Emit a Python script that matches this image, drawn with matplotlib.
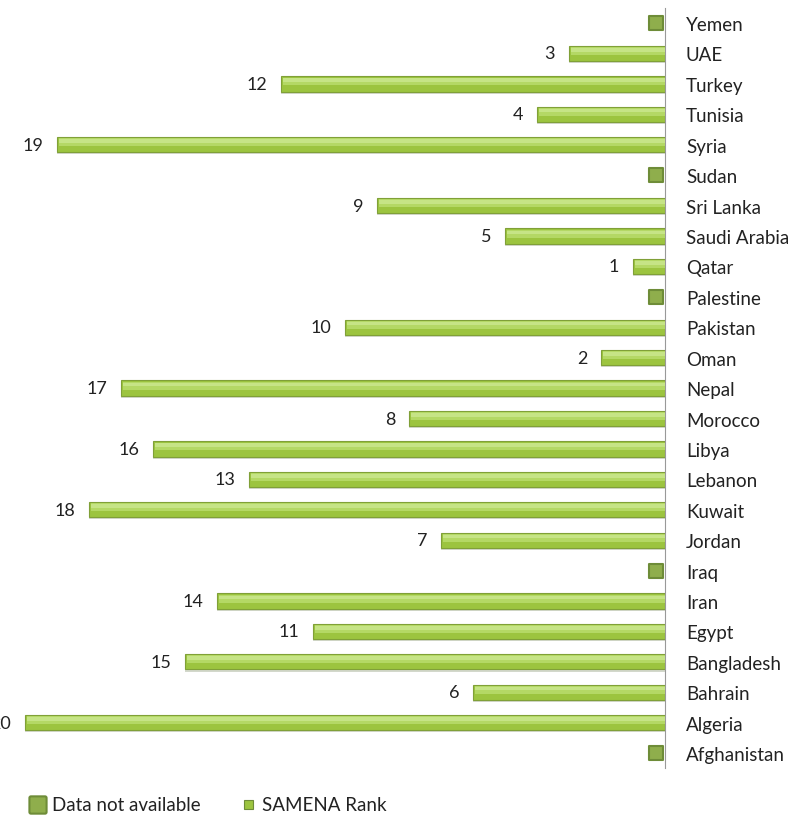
import matplotlib.pyplot as plt
import numpy as np
from matplotlib.patches import FancyBboxPatch

plt.rcParams['font.family'] = ['Lato', 'DejaVu Sans']

# countries from bottom to top, None = data not available
countries = ["Afghanistan", "Algeria", "Bahrain", "Bangladesh", "Egypt", "Iran", "Iraq",
             "Jordan", "Kuwait", "Lebanon", "Libya", "Morocco", "Nepal", "Oman", "Pakistan",
             "Palestine", "Qatar", "Saudi Arabia", "Sri Lanka", "Sudan", "Syria", "Tunisia",
             "Turkey", "UAE", "Yemen"]
rank = [None, 20, 6, 15, 11, 14, None, 7, 18, 13, 16, 8, 17, 2, 10,
        None, 1, 5, 9, None, 19, 4, 12, 3, None]

fig = plt.figure(figsize=(7.9, 8.2), dpi=100)
ax = fig.add_axes([0.0, 0.0618, 665 / 790, 0.9274])

y = np.arange(len(countries))
vals = np.array([v if v is not None else 0 for v in rank], dtype=float)
has = np.array([v is not None for v in rank])

# shadow, main bar, soft highlight
ax.barh(y[has] - 0.07, vals[has], height=0.5, color='#d3d8cc', zorder=1)
ax.barh(y[has], vals[has], height=0.5, color='#9cc43f', edgecolor='#80a038', linewidth=0.8, zorder=2)
ax.barh(y[has] + 0.08, vals[has] - 0.05, height=0.26, color='#b4d865', linewidth=0, zorder=3)
ax.barh(y[has] + 0.12, vals[has] - 0.05, height=0.12, color='#c6e486', linewidth=0, zorder=3)

for yi, v in zip(y[has], vals[has]):
    ax.annotate(str(int(v)), (v, yi), xytext=(-10, 0), textcoords='offset points',
                ha='right', va='center', fontsize=13, color='#222222', annotation_clip=False)

# not available markers
na_y = y[~has]
ax.scatter(np.full(len(na_y), 0.28), na_y, marker='s', s=110, color='#8fae4c',
           edgecolor='#6e8c38', linewidth=1.5, zorder=4, clip_on=False)

ax.set_xlim(665 / 32, 0)
ax.set_ylim(-0.5, len(countries) - 0.5)
ax.set_yticks(y)
ax.set_yticklabels(countries, fontsize=13.5, color='#222222')
ax.yaxis.tick_right()
ax.tick_params(axis='y', length=0, pad=15)
ax.set_xticks([])
for s in ['top', 'left', 'bottom']:
    ax.spines[s].set_visible(False)
ax.spines['right'].set_color('#999999')
ax.spines['right'].set_linewidth(0.8)

# legend
fig.patches.append(FancyBboxPatch((31 / 790, 1 - 813 / 820), 14 / 790, 14 / 820,
                                  boxstyle='round,pad=0.002', transform=fig.transFigure,
                                  facecolor='#8fae4c', edgecolor='#6e8c38', linewidth=1.5))
fig.text(52 / 790, 1 - 806 / 820, "Data not available", fontsize=13.5, va='center', color='#222222')
fig.patches.append(plt.Rectangle((244 / 790, 1 - 810 / 820), 9 / 790, 9 / 820,
                                 transform=fig.transFigure, facecolor='#9cc43f', edgecolor='#6e8c38',
                                 linewidth=0.8))
fig.text(262 / 790, 1 - 806 / 820, "SAMENA Rank", fontsize=13.5, va='center', color='#222222')

fig.savefig("out.png", dpi=100)
